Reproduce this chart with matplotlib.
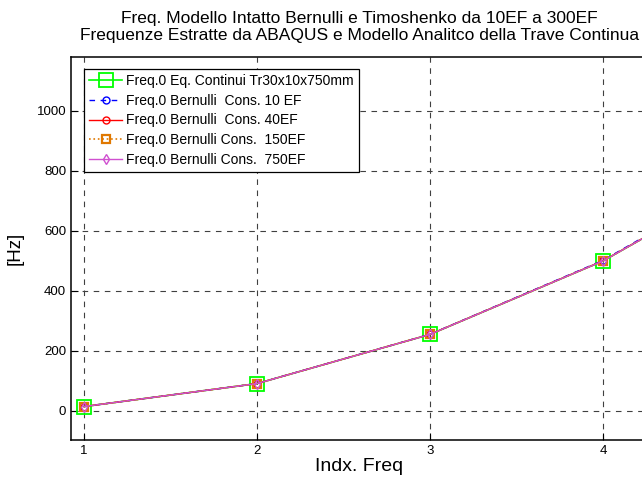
import numpy as np
import matplotlib.pyplot as plt

plt.rcParams["font.family"] = ["Liberation Sans", "DejaVu Sans"]

# mode index and frequencies [Hz]
modes = [1, 2, 3, 4, 5]
f_continuo = [14.5, 91.1, 255.1, 500.0, 826.5]
f_bern_10 = [14.5, 91.2, 255.6, 502.0, 832.0]
f_bern_40 = [14.5, 91.1, 255.2, 500.2, 827.0]
f_bern_150 = [14.5, 91.1, 255.1, 500.0, 826.6]
f_bern_750 = [14.5, 91.1, 255.1, 500.0, 826.5]

labels = [
    "Freq.0 Eq. Continui Tr30x10x750mm",
    "Freq.0 Bernulli  Cons. 10 EF",
    "Freq.0 Bernulli  Cons. 40EF",
    "Freq.0 Bernulli Cons.  150EF",
    "Freq.0 Bernulli Cons.  750EF",
]

fig = plt.figure(figsize=(6.42, 4.87), dpi=100)
ax = fig.add_axes([0.1106, 0.0965, 0.8988, 0.7865])

ax.plot(modes, f_continuo, "-s", color=(0, 1, 0), lw=1.2, ms=10,
        mfc="none", mew=1.3, label=labels[0])
ax.plot(modes, f_bern_10, "--o", color=(0, 0, 1), lw=1.0, ms=5,
        mfc="none", mew=1.0, dashes=(4, 4), label=labels[1])
ax.plot(modes, f_bern_40, "-o", color=(1, 0, 0), lw=1.0, ms=5,
        mfc="none", mew=1.0, label=labels[2])
ax.plot(modes, f_bern_150, ":s", color="#E07800", lw=1.2, ms=5.5,
        mfc="none", mew=1.6, label=labels[3])
ax.plot(modes, f_bern_750, "-d", color="#D050D0", lw=1.0, ms=5.5,
        mfc="none", mew=1.0, label=labels[4])

ax.set_xlim(0.925, 4.26)
ax.set_ylim(-97, 1180)
ax.set_xticks([1, 2, 3, 4])
ax.set_yticks([0, 200, 400, 600, 800, 1000])
ax.tick_params(direction="in", length=5, labelsize=9.5, width=0.8)
ax.grid(True, color="0.25", linestyle=(0, (5, 5)), linewidth=0.8)
for s in ax.spines.values():
    s.set_linewidth(1.1)

ax.set_xlabel("Indx. Freq", fontsize=14, labelpad=1)
ax.set_ylabel("[Hz]", fontsize=13.5, labelpad=9)
ax.set_title("Freq. Modello Intatto Bernulli e Timoshenko da 10EF a 300EF\n"
             "Frequenze Estratte da ABAQUS e Modello Analitco della Trave Continua",
             fontsize=12.5, linespacing=1.2, pad=12)

leg = ax.legend(loc="upper left", bbox_to_anchor=(13 / 577, 0.969), borderaxespad=0,
                fontsize=10, fancybox=False, framealpha=1, edgecolor="k",
                handlelength=2.4, handletextpad=0.3, labelspacing=0.42,
                borderpad=0.35)
leg.get_frame().set_linewidth(0.9)

fig.savefig("out.png", dpi=100)
